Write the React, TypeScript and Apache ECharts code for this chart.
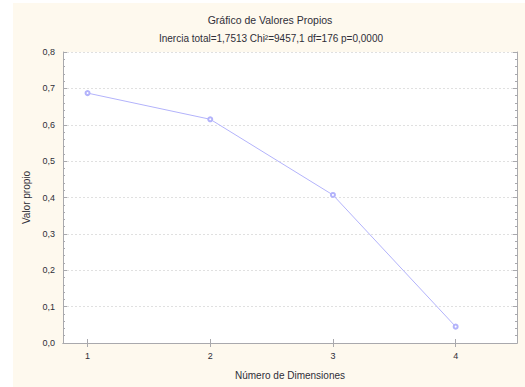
import React, { useEffect, useRef } from "react";
import * as echarts from "echarts";

const dimensions = [1, 2, 3, 4];
const eigenvalues = [0.687, 0.615, 0.407, 0.045];
const xTicks = [1, 2, 3, 4];
const titleText = "Gráfico de Valores Propios";
const subtitleText = "Inercia total=1,7513 Chi²=9457,1 df=176 p=0,0000";
const xName = "Número de Dimensiones";
const yName = "Valor propio";

const FONT = "Liberation Sans, Arial, sans-serif";
const AXIS_COLOR = "#a9a9ad";
const TEXT_COLOR = "#2e2e38";
const LINE_COLOR = "#b3b3fb";

export default function App() {
  const ref = useRef<HTMLDivElement>(null);
  useEffect(() => {
    if (!ref.current) return;
    const chart = echarts.init(ref.current, null, { renderer: "svg" });
    const fmtY = (v: number) => v.toFixed(1).replace(".", ",");
    const option: any = {
      animation: false,
      backgroundColor: "transparent",
      textStyle: { fontFamily: FONT },
      graphic: [
        {
          type: "text",
          x: 270,
          y: 20,
          style: {
            text: titleText,
            fontFamily: FONT,
            fontSize: 10.5,
            fill: TEXT_COLOR,
            textAlign: "center",
            textVerticalAlign: "middle",
          },
        },
        {
          type: "text",
          x: 271,
          y: 38,
          style: {
            text: subtitleText,
            fontFamily: FONT,
            fontSize: 10,
            fill: TEXT_COLOR,
            textAlign: "center",
            textVerticalAlign: "middle",
          },
        },
      ],
      grid: {
        left: 63,
        right: 8,
        top: 52,
        bottom: 44,
        show: true,
        backgroundColor: "#ffffff",
        borderWidth: 0,
      },
      xAxis: [
        {
          type: "value",
          min: 0.8,
          max: 4.5,
          position: "bottom",
          name: xName,
          nameLocation: "middle",
          nameGap: 27,
          nameTextStyle: { fontSize: 10, color: TEXT_COLOR, fontFamily: FONT },
          axisLine: { show: true, lineStyle: { color: AXIS_COLOR } },
          axisTick: {
            show: true,
            inside: true,
            length: 4,
            customValues: xTicks,
            lineStyle: { color: AXIS_COLOR },
          },
          axisLabel: {
            customValues: xTicks,
            margin: 8,
            fontSize: 9,
            color: TEXT_COLOR,
            fontFamily: FONT,
          },
          splitLine: { show: false },
        },
        {
          type: "value",
          min: 0.8,
          max: 4.5,
          position: "top",
          axisLine: { show: true, lineStyle: { color: AXIS_COLOR } },
          axisTick: {
            show: true,
            inside: true,
            length: 4,
            customValues: xTicks,
            lineStyle: { color: AXIS_COLOR },
          },
          axisLabel: { show: false },
          splitLine: { show: false },
        },
      ],
      yAxis: [
        {
          type: "value",
          min: 0,
          max: 0.8,
          interval: 0.1,
          position: "left",
          name: yName,
          nameLocation: "middle",
          nameGap: 31,
          nameTextStyle: { fontSize: 10, color: TEXT_COLOR, fontFamily: FONT },
          axisLine: { show: true, lineStyle: { color: AXIS_COLOR } },
          axisTick: { show: true, inside: true, length: 4, lineStyle: { color: AXIS_COLOR } },
          minorTick: { show: true, splitNumber: 5, length: 2, lineStyle: { color: AXIS_COLOR } },
          axisLabel: {
            formatter: fmtY,
            margin: 8,
            fontSize: 9,
            color: TEXT_COLOR,
            fontFamily: FONT,
          },
          splitLine: {
            show: true,
            lineStyle: { color: "#e0e0e0", type: [2, 2], width: 1 },
          },
        },
        {
          type: "value",
          min: 0,
          max: 0.8,
          interval: 0.1,
          position: "right",
          axisLine: { show: true, lineStyle: { color: AXIS_COLOR } },
          axisTick: { show: true, inside: true, length: 4, lineStyle: { color: AXIS_COLOR } },
          minorTick: { show: true, splitNumber: 5, length: 2, lineStyle: { color: AXIS_COLOR } },
          axisLabel: { show: false },
          splitLine: { show: false },
        },
      ],
      series: [
        {
          type: "line",
          xAxisIndex: 0,
          yAxisIndex: 0,
          data: dimensions.map((d, i) => [d, eigenvalues[i]]),
          symbol: "emptyCircle",
          symbolSize: 4,
          lineStyle: { color: LINE_COLOR, width: 1 },
          itemStyle: { color: LINE_COLOR, borderColor: LINE_COLOR, borderWidth: 1 },
        },
      ],
    };
    chart.setOption(option);
    return () => chart.dispose();
  }, []);

  return (
    <div
      style={{
        position: "fixed",
        left: 0,
        top: 0,
        width: 525,
        height: 387,
        background: "#ffffff",
      }}
    >
      <div
        style={{
          position: "absolute",
          left: 13,
          top: 3,
          right: 0,
          bottom: 0,
          background: "#fef9ee",
        }}
      />
      <div
        ref={ref}
        style={{ position: "absolute", left: 0, top: 0, width: 525, height: 387 }}
      />
    </div>
  );
}
